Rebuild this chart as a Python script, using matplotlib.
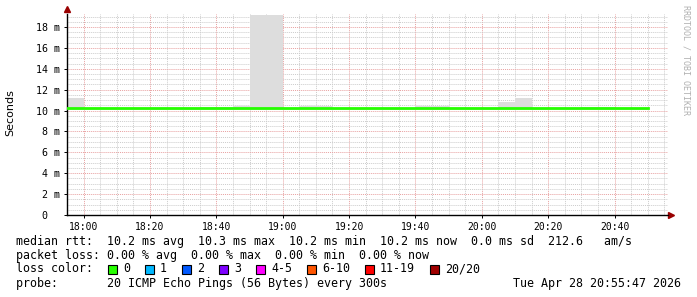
import numpy as np
import matplotlib
matplotlib.use('Agg')
import matplotlib.pyplot as plt
from matplotlib.patches import Rectangle

# bins of 5 minutes, minutes relative to 18:00
bin_start = np.arange(-5, 170, 5)
median = [10.2, 10.2, 10.2, 10.2, 10.2, 10.2, 10.2, 10.2, 10.25, 10.22,
          10.22, 10.22, 10.22, 10.2, 10.2, 10.2, 10.22, 10.22, 10.22, 10.22,
          10.22, 10.22, 10.22, 10.22, 10.2, 10.2, 10.2, 10.2, 10.2, 10.2,
          10.2, 10.2, 10.2, 10.2, 10.2]
smoke_lo = [10.1] * 35
smoke_hi = [11.2, 10.2, 10.2, 10.2, 10.2, 10.2, 10.2, 10.2, 10.35, 10.3,
            10.4, 19.2, 19.2, 10.2, 10.45, 10.45, 10.25, 10.25, 10.25, 10.25,
            10.25, 10.4, 10.4, 10.25, 10.25, 10.25, 10.8, 11.2, 10.25, 10.25,
            10.25, 10.3, 10.3, 10.2, 10.2]

xticks = [0, 20, 40, 60, 80, 100, 120, 140, 160]
xlabels = ['18:00', '18:20', '18:40', '19:00', '19:20', '19:40', '20:00', '20:20', '20:40']
yticks = [0, 2, 4, 6, 8, 10, 12, 14, 16, 18]
ylabels = ['0  ', '2 m', '4 m', '6 m', '8 m', '10 m', '12 m', '14 m', '16 m', '18 m']

loss_labels = ['0', '1', '2', '3', '4-5', '6-10', '11-19', '20/20']
loss_colors = ['#26ff00', '#00b8ff', '#0059ff', '#7e00ff', '#ff00ff', '#ff5500', '#ff0000', '#a00000']

legend_lines = [
    'median rtt:  10.2 ms avg  10.3 ms max  10.2 ms min  10.2 ms now  0.0 ms sd  212.6   am/s',
    'packet loss: 0.00 % avg  0.00 % max  0.00 % min  0.00 % now',
    'loss color:',
    'probe:       20 ICMP Echo Pings (56 Bytes) every 300s',
]
stamp = 'Tue Apr 28 20:55:47 2026'

W, H = 697, 297
fig = plt.figure(figsize=(W / 100, H / 100), dpi=100)

def fx(x):
    return x / W

def fy(y):
    return 1 - y / H

ax = fig.add_axes([fx(67), fy(215), (668 - 67) / W, (215 - 14) / H])
mono = 'DejaVu Sans Mono'

edges = np.append(bin_start, bin_start[-1] + 5)
lo = np.append(smoke_lo, smoke_lo[-1])
hi = np.append(smoke_hi, smoke_hi[-1])
med = np.append(median, median[-1])
ax.fill_between(edges, lo, hi, step='post', color='#dddddd', lw=0, zorder=1)
ax.step(edges, med, where='post', color='#26ff00', lw=2, zorder=3)

ax.set_xlim(-3.9, 176.1)
ax.set_ylim(0, 19.25)
ax.set_xticks(xticks)
ax.set_xticklabels(xlabels, fontfamily=mono, fontsize=7)
ax.set_xticks(np.arange(-5, 176, 5), minor=True)
ax.set_yticks(yticks)
ax.set_yticklabels(ylabels, fontfamily=mono, fontsize=7.2)
ax.set_yticks(np.arange(0, 19.3, 0.5), minor=True)
ax.grid(which='minor', color='#cccccc', ls=(0, (1, 1)), lw=0.7, zorder=0)
ax.grid(which='major', color='#e8a0a0', ls=(0, (1, 1)), lw=0.7, zorder=0)
ax.set_axisbelow(True)
ax.tick_params(which='major', length=2, width=0.7, pad=3)
ax.tick_params(which='minor', length=0)
for s in ['top', 'right']:
    ax.spines[s].set_visible(False)
for s in ['left', 'bottom']:
    ax.spines[s].set_linewidth(1)
ax.plot([0], [1.025], marker='^', color='#990000', ms=4, transform=ax.transAxes, clip_on=False)
ax.plot([1.005], [0], marker='>', color='#990000', ms=4, transform=ax.transAxes, clip_on=False)

fig.text(fx(10), fy(113), 'Seconds', rotation=90, fontsize=8, ha='center', va='center')
fig.text(fx(686), fy(5), 'RRDTOOL / TOBI OETIKER', rotation=270, fontsize=6, color='#b0b0b0',
         fontfamily=mono, ha='center', va='top')

rows = [241, 255, 269, 283]
for y, line in zip(rows, legend_lines):
    fig.text(fx(16), fy(y), line, fontfamily=mono, fontsize=8.4, va='center')
fig.text(fx(681), fy(283), stamp, fontfamily=mono, fontsize=8.4, va='center', ha='right')

bx = 108
for lab, col in zip(loss_labels, loss_colors):
    fig.patches.append(Rectangle((fx(bx), fy(273.5)), 9 / W, 9 / H, transform=fig.transFigure,
                                 facecolor=col, edgecolor='black', lw=0.8))
    fig.text(fx(bx + 15), fy(269), lab, fontfamily=mono, fontsize=8.4, va='center')
    bx += 15 + 7 * len(lab) + 15

fig.savefig('out.png', dpi=100)
